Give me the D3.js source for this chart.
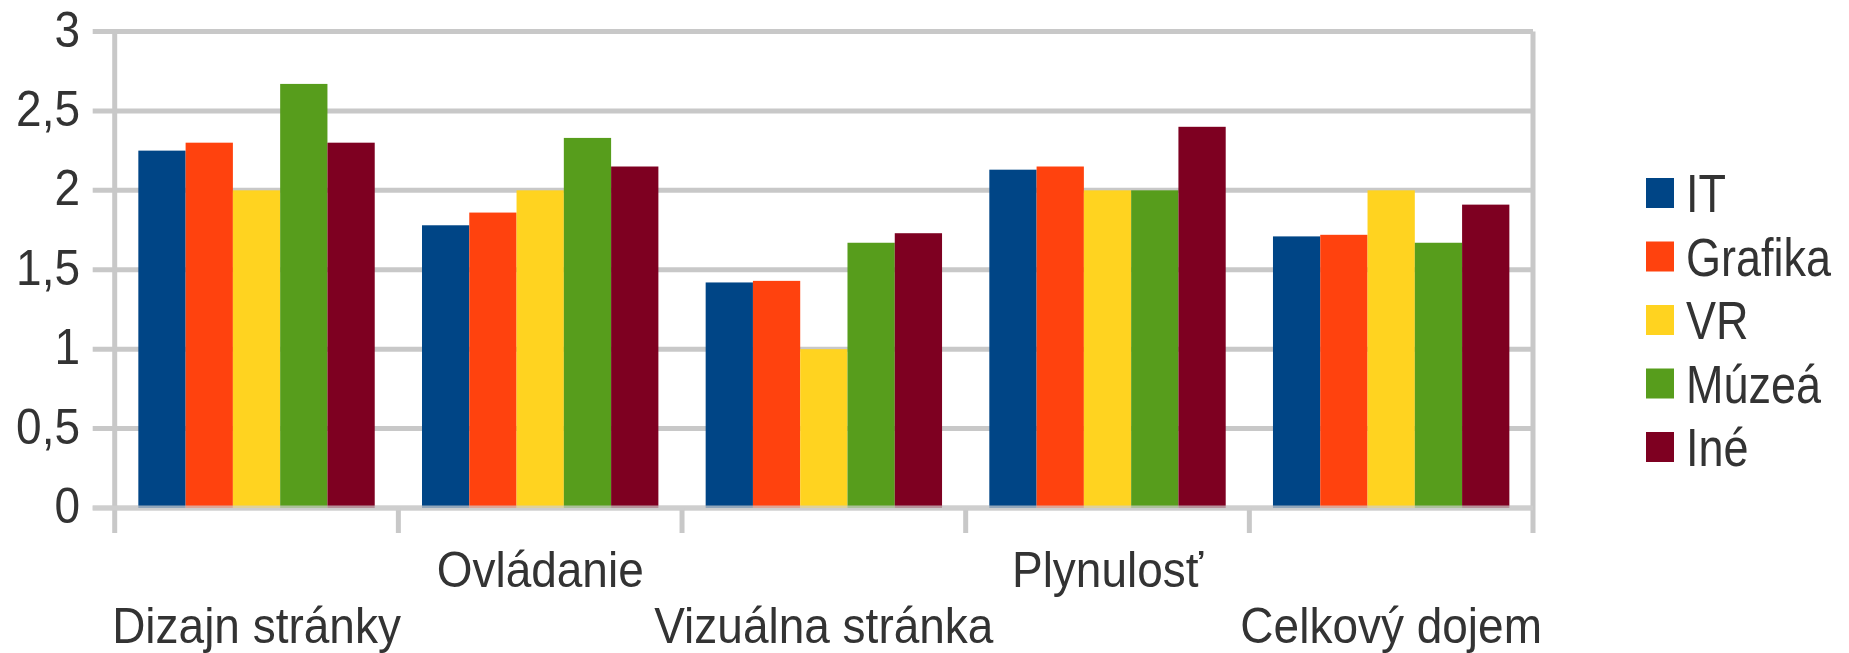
<!DOCTYPE html>
<html>
<head>
<meta charset="utf-8">
<script src="https://cdn.jsdelivr.net/npm/d3@7/dist/d3.min.js"></script>
<style>
  html, body { margin: 0; padding: 0; background: #ffffff; }
  svg { display: block; }
  text { font-family: "Liberation Sans", Arial, sans-serif; fill: #333333; }
</style>
</head>
<body>
<svg id="chart" width="1849" height="653"></svg>
<script>
// Hodnotenie podľa skupín respondentov
const categories = ["Dizajn stránky", "Ovládanie", "Vizuálna stránka", "Plynulosť", "Celkový dojem"];
const seriesNames = ["IT", "Grafika", "VR", "Múzeá", "Iné"];
const seriesColors = ["#004586", "#ff420e", "#ffd320", "#579d1c", "#7e0021"];

const valuesIT      = [2.25, 1.78, 1.42, 2.13, 1.71];
const valuesGrafika = [2.30, 1.86, 1.43, 2.15, 1.72];
const valuesVR      = [2.00, 2.00, 1.00, 2.00, 2.00];
const valuesMuzea   = [2.67, 2.33, 1.67, 2.00, 1.67];
const valuesIne     = [2.30, 2.15, 1.73, 2.40, 1.91];

const yTickValues = [0, 0.5, 1, 1.5, 2, 2.5, 3];
const yTickLabels = ["0", "0,5", "1", "1,5", "2", "2,5", "3"];

const seriesValues = [valuesIT, valuesGrafika, valuesVR, valuesMuzea, valuesIne];

const svg = d3.select("#chart");

const plot = { left: 114.7, right: 1533, top: 31.5, bottom: 508 };
const gridColor = "#c8c8c8";
const lineW = 5;

const x0 = d3.scaleBand()
  .domain(categories)
  .range([plot.left, plot.right])
  .paddingInner(0)
  .paddingOuter(0);

const x1 = d3.scaleBand()
  .domain(seriesNames)
  .range([0, x0.bandwidth()])
  .paddingInner(0)
  .paddingOuter(0.5);

const y = d3.scaleLinear()
  .domain([0, 3])
  .range([plot.bottom, plot.top]);

// horizontal grid lines with short outer ticks
svg.append("g").selectAll("line")
  .data(yTickValues)
  .join("line")
  .attr("x1", plot.left - 22)
  .attr("x2", plot.right)
  .attr("y1", d => y(d))
  .attr("y2", d => y(d))
  .attr("stroke", gridColor)
  .attr("stroke-width", lineW);

// left and right frame lines, extended below the baseline
svg.append("g").selectAll("line")
  .data([plot.left, plot.right])
  .join("line")
  .attr("x1", d => d).attr("x2", d => d)
  .attr("y1", plot.top).attr("y2", plot.bottom + 25)
  .attr("stroke", gridColor)
  .attr("stroke-width", lineW);

// category separator ticks
const boundaries = categories.slice(1).map(c => x0(c));
svg.append("g").selectAll("line")
  .data(boundaries)
  .join("line")
  .attr("x1", d => d).attr("x2", d => d)
  .attr("y1", plot.bottom).attr("y2", plot.bottom + 25)
  .attr("stroke", gridColor)
  .attr("stroke-width", lineW);

// y tick labels
svg.append("g").selectAll("text")
  .data(yTickValues)
  .join("text")
  .attr("text-anchor", "end")
  .attr("font-size", 46)
  .attr("transform", d => `translate(80,${y(d) + 15}) scale(1,1.1)`)
  .text((d, i) => yTickLabels[i]);

// bars
const groups = svg.append("g").selectAll("g")
  .data(categories)
  .join("g")
  .attr("transform", c => `translate(${x0(c)},0)`);

groups.selectAll("rect")
  .data((c, ci) => seriesNames.map((s, si) => ({ s, si, v: seriesValues[si][ci] })))
  .join("rect")
  .attr("x", d => x1(d.s))
  .attr("width", x1.bandwidth())
  .attr("y", d => y(d.v))
  .attr("height", d => y(0) - y(d.v))
  .attr("fill", d => seriesColors[d.si]);

// baseline drawn over the bars
svg.append("line")
  .attr("x1", plot.left - 22).attr("x2", plot.right)
  .attr("y1", y(0)).attr("y2", y(0))
  .attr("stroke", "#d0d0d0")
  .attr("stroke-opacity", 0.7)
  .attr("stroke-width", lineW);

// category labels on two staggered rows
svg.append("g").selectAll("text")
  .data(categories)
  .join("text")
  .attr("text-anchor", "middle")
  .attr("font-size", 46)
  .attr("transform", (c, i) => `translate(${x0(c) + x0.bandwidth() / 2},${i % 2 === 0 ? 643 : 587}) scale(1,1.1)`)
  .text(c => c);

// legend
const legend = svg.append("g").selectAll("g")
  .data(seriesNames)
  .join("g")
  .attr("transform", (s, i) => `translate(1646,${193 + i * 63.5})`);

legend.append("rect")
  .attr("x", 0).attr("y", -15)
  .attr("width", 28).attr("height", 30)
  .attr("fill", (s, i) => seriesColors[i]);

legend.append("text")
  .attr("font-size", 45)
  .attr("transform", "translate(40,19) scale(1,1.2)")
  .text(s => s);
</script>
</body>
</html>
